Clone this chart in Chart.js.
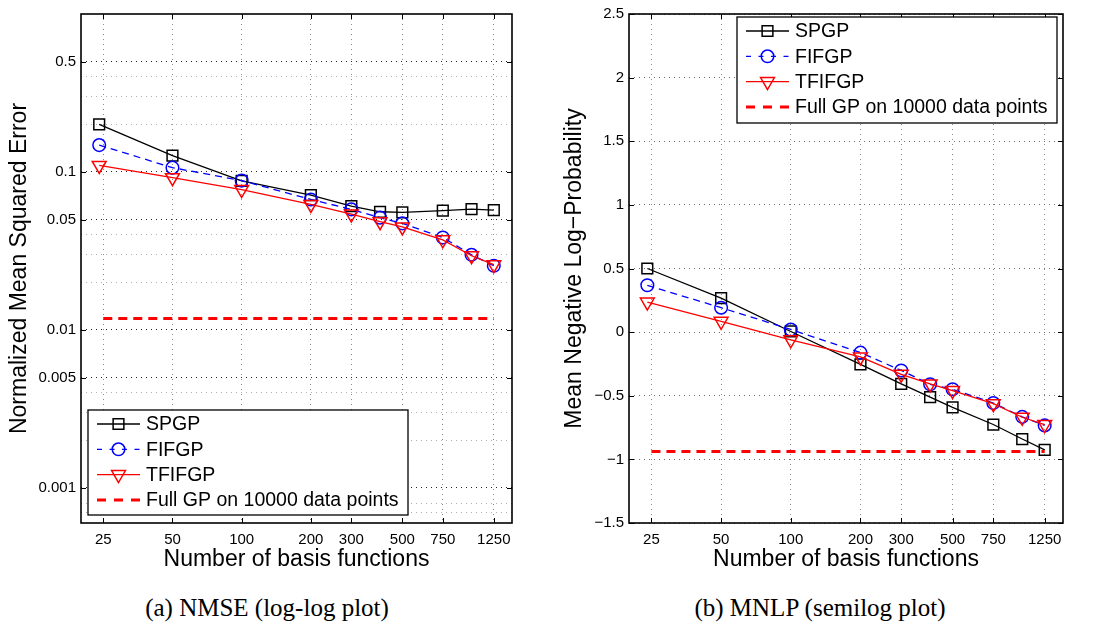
<!DOCTYPE html>
<html>
<head>
<meta charset="utf-8">
<script src="https://cdn.jsdelivr.net/npm/chart.js@4.4.1/dist/chart.umd.min.js"></script>
<style>
  html, body { margin: 0; padding: 0; background: #fff; }
  body { position: relative; width: 1099px; height: 626px; overflow: hidden; }
  canvas { position: absolute; top: 0; }
  #nmseChart { left: 0; }
  #mnlpChart { left: 549px; }
  .caption {
    position: absolute; top: 593px; width: 400px; text-align: center;
    font-family: "Liberation Serif", "Times New Roman", serif; font-size: 25px; line-height: 30px; color: #000;
  }
</style>
</head>
<body>
<canvas id="nmseChart" width="545" height="590"></canvas>
<canvas id="mnlpChart" width="550" height="590"></canvas>
<div class="caption" style="left: 67px;">(a) NMSE (log-log plot)</div>
<div class="caption" style="left: 620px;">(b) MNLP (semilog plot)</div>

<script>
// number of basis functions used in each run
const basisCounts = [24, 50, 100, 200, 300, 400, 500, 750, 1000, 1250];
const basisTicks = [25, 50, 100, 200, 300, 500, 750, 1250];
const fullGpSpan = [25, 1250];

const seriesNames = ['SPGP', 'FIFGP', 'TFIFGP', 'Full GP on 10000 data points'];

// normalized mean squared error
const nmseSpgp   = [0.200, 0.127, 0.0878, 0.0713, 0.0608, 0.0560, 0.0555, 0.0569, 0.0582, 0.0574];
const nmseFifgp  = [0.148, 0.1065, 0.0882, 0.0670, 0.0580, 0.0514, 0.0473, 0.0385, 0.0299, 0.0255];
const nmseTfifgp = [0.110, 0.092, 0.0774, 0.0623, 0.0542, 0.0485, 0.0449, 0.0372, 0.0295, 0.0259];
const nmseFullGp = 0.0118;

// mean negative log-probability
const mnlpSpgp   = [0.500, 0.267, 0.005, -0.254, -0.407, -0.511, -0.591, -0.726, -0.840, -0.926];
const mnlpFifgp  = [0.368, 0.192, 0.021, -0.161, -0.301, -0.410, -0.449, -0.557, -0.666, -0.733];
const mnlpTfifgp = [0.236, 0.085, -0.060, -0.195, -0.332, -0.407, -0.459, -0.562, -0.669, -0.726];
const mnlpFullGp = -0.938;

const nmseLabelTicks = [0.001, 0.005, 0.01, 0.05, 0.1, 0.5];
const nmseMinorTicks = [0.0007, 0.0008, 0.002, 0.003, 0.004, 0.02, 0.03, 0.04, 0.2, 0.3, 0.4];
const mnlpTicks = [-1.5, -1, -0.5, 0, 0.5, 1, 1.5, 2, 2.5];

const FONT = '"Liberation Sans", Arial, Helvetica, sans-serif';
Chart.defaults.font.family = FONT;
Chart.defaults.color = '#000';

function toPoints(xs, ys) {
    return xs.map((x, i) => ({ x: x, y: ys[i] }));
}

function isLabelTick(v) {
    return nmseLabelTicks.some(t => Math.abs(t - v) / t < 1e-6);
}

function signed(v) {
    return v < 0 ? '\u2212' + String(-v) : String(v);
}

function makeDatasets(spgp, fifgp, tfifgp, fullGp) {
    const hollow = 'rgba(0,0,0,0)';
    return [
        { label: seriesNames[0], data: toPoints(basisCounts, spgp), order: 3,
          borderColor: '#000', borderWidth: 1.3, pointStyle: 'rect', pointRadius: 7.6,
          pointBorderWidth: 1.5, pointBorderColor: '#000', pointBackgroundColor: hollow },
        { label: seriesNames[1], data: toPoints(basisCounts, fifgp), order: 2,
          borderColor: '#0000ff', borderWidth: 1.3, borderDash: [7, 5], pointStyle: 'circle', pointRadius: 6.3,
          pointBorderWidth: 1.5, pointBorderColor: '#0000ff', pointBackgroundColor: hollow },
        { label: seriesNames[2], data: toPoints(basisCounts, tfifgp), order: 1,
          borderColor: '#ff0000', borderWidth: 1.3, pointStyle: 'triangle', pointRotation: 180, pointRadius: 8,
          pointBorderWidth: 1.5, pointBorderColor: '#ff0000', pointBackgroundColor: hollow },
        { label: seriesNames[3], data: fullGpSpan.map(x => ({ x: x, y: fullGp })), order: 0,
          borderColor: '#ff0000', borderWidth: 3, borderDash: [9, 6], pointRadius: 0 }
    ];
}

// box round the plot area with inward tick marks on all four sides
const axesBox = {
    id: 'axesBox',
    afterDatasetsDraw(chart) {
        const { ctx, chartArea: a, scales } = chart;
        ctx.save();
        ctx.strokeStyle = '#000';
        ctx.lineWidth = 1;
        ctx.beginPath();
        scales.x.ticks.forEach(t => {
            const px = Math.round(scales.x.getPixelForValue(t.value)) + 0.5;
            ctx.moveTo(px, a.bottom); ctx.lineTo(px, a.bottom - 5);
            ctx.moveTo(px, a.top); ctx.lineTo(px, a.top + 5);
        });
        scales.y.ticks.forEach(t => {
            if (t.label === '') return;
            const py = Math.round(scales.y.getPixelForValue(t.value)) + 0.5;
            ctx.moveTo(a.left, py); ctx.lineTo(a.left + 5, py);
            ctx.moveTo(a.right, py); ctx.lineTo(a.right - 5, py);
        });
        ctx.stroke();
        ctx.lineWidth = 1.6;
        ctx.strokeRect(a.left, a.top, a.right - a.left, a.bottom - a.top);
        ctx.restore();
    }
};

// boxed legend drawn inside the axes
const boxLegend = {
    id: 'boxLegend',
    afterDraw(chart, args, opts) {
        const { ctx } = chart;
        ctx.save();
        ctx.fillStyle = '#fff';
        ctx.fillRect(opts.x, opts.y, opts.w, opts.h);
        ctx.strokeStyle = '#000';
        ctx.lineWidth = 1.3;
        ctx.strokeRect(opts.x, opts.y, opts.w, opts.h);
        chart.data.datasets.forEach((ds, i) => {
            const y = opts.y + 14 + i * 25.3;
            const x0 = opts.x + 9, x1 = opts.x + 52;
            ctx.strokeStyle = ds.borderColor;
            ctx.lineWidth = ds.borderWidth;
            ctx.setLineDash(ds.borderDash ? (i === 3 ? [9, 8] : [5, 7.5]) : []);
            ctx.beginPath();
            ctx.moveTo(x0, y); ctx.lineTo(x1, y);
            ctx.stroke();
            ctx.setLineDash([]);
            if (ds.pointRadius > 0 && Chart.helpers && Chart.helpers.drawPoint) {
                ctx.fillStyle = 'rgba(0,0,0,0)';
                ctx.strokeStyle = ds.pointBorderColor;
                ctx.lineWidth = ds.pointBorderWidth;
                Chart.helpers.drawPoint(ctx, {
                    pointStyle: ds.pointStyle, rotation: ds.pointRotation || 0,
                    radius: ds.pointRadius, borderWidth: ds.pointBorderWidth
                }, (x0 + x1) / 2, y);
            }
            ctx.fillStyle = '#000';
            ctx.font = '19.5px ' + FONT;
            ctx.textBaseline = 'middle';
            ctx.fillText(ds.label, opts.x + 58, y + 1);
        });
        ctx.restore();
    }
};

function xAxis() {
    return {
        type: 'logarithmic', min: 20, max: 1500,
        afterBuildTicks: s => { s.ticks = basisTicks.map(v => ({ value: v })); },
        afterFit: s => { s.height = 67; },
        ticks: { callback: v => String(v), autoSkip: false, maxRotation: 0, minRotation: 0,
                 padding: 8, font: { size: 15 } },
        grid: { color: '#8a8a8a', lineWidth: 1, drawTicks: false },
        border: { display: false, dash: [1, 4] },
        title: { display: true, text: 'Number of basis functions', font: { size: 23 },
                 padding: { top: 0, bottom: 17 } }
    };
}

function buildChart(id, datasets, yScale, padding, legendBox) {
    return new Chart(document.getElementById(id), {
        type: 'line',
        data: { datasets: datasets },
        options: {
            responsive: false, animation: false, devicePixelRatio: 1,
            layout: { padding: padding },
            elements: { line: { tension: 0 } },
            plugins: { legend: { display: false }, tooltip: { enabled: false }, boxLegend: legendBox },
            scales: { x: xAxis(), y: yScale }
        },
        plugins: [axesBox, boxLegend]
    });
}

buildChart('nmseChart', makeDatasets(nmseSpgp, nmseFifgp, nmseTfifgp, nmseFullGp), {
    type: 'logarithmic', min: 0.0006, max: 1,
    afterBuildTicks: s => {
        s.ticks = nmseLabelTicks.concat(nmseMinorTicks).sort((a, b) => a - b).map(v => ({ value: v }));
    },
    afterFit: s => { s.width = 81; },
    ticks: { callback: v => isLabelTick(v) ? String(v) : '', autoSkip: false, padding: 5, font: { size: 15 } },
    grid: { color: c => (c.tick && isLabelTick(c.tick.value)) ? '#222' : '#b0b0b0', lineWidth: 1, drawTicks: false },
    border: { display: false, dash: [1, 4] },
    title: { display: true, text: 'Normalized Mean Squared Error', font: { size: 23 },
             padding: { top: 6, bottom: 0 } }
}, { left: 0, right: 33, top: 10, bottom: 0 }, { x: 88, y: 410, w: 320, h: 105 });

buildChart('mnlpChart', makeDatasets(mnlpSpgp, mnlpFifgp, mnlpTfifgp, mnlpFullGp), {
    type: 'linear', min: -1.5, max: 2.5,
    afterBuildTicks: s => { s.ticks = mnlpTicks.map(v => ({ value: v })); },
    afterFit: s => { s.width = 80; },
    ticks: { callback: v => signed(v), autoSkip: false, padding: 5, font: { size: 15 } },
    grid: { color: '#707070', lineWidth: 1, drawTicks: false },
    border: { display: false, dash: [1, 4] },
    title: { display: true, text: 'Mean Negative Log\u2212Probability', font: { size: 23 },
             padding: { top: 12, bottom: 0 } }
}, { left: 0, right: 36, top: 9, bottom: 0 }, { x: 188, y: 17, w: 320, h: 106 });
</script>
</body>
</html>
